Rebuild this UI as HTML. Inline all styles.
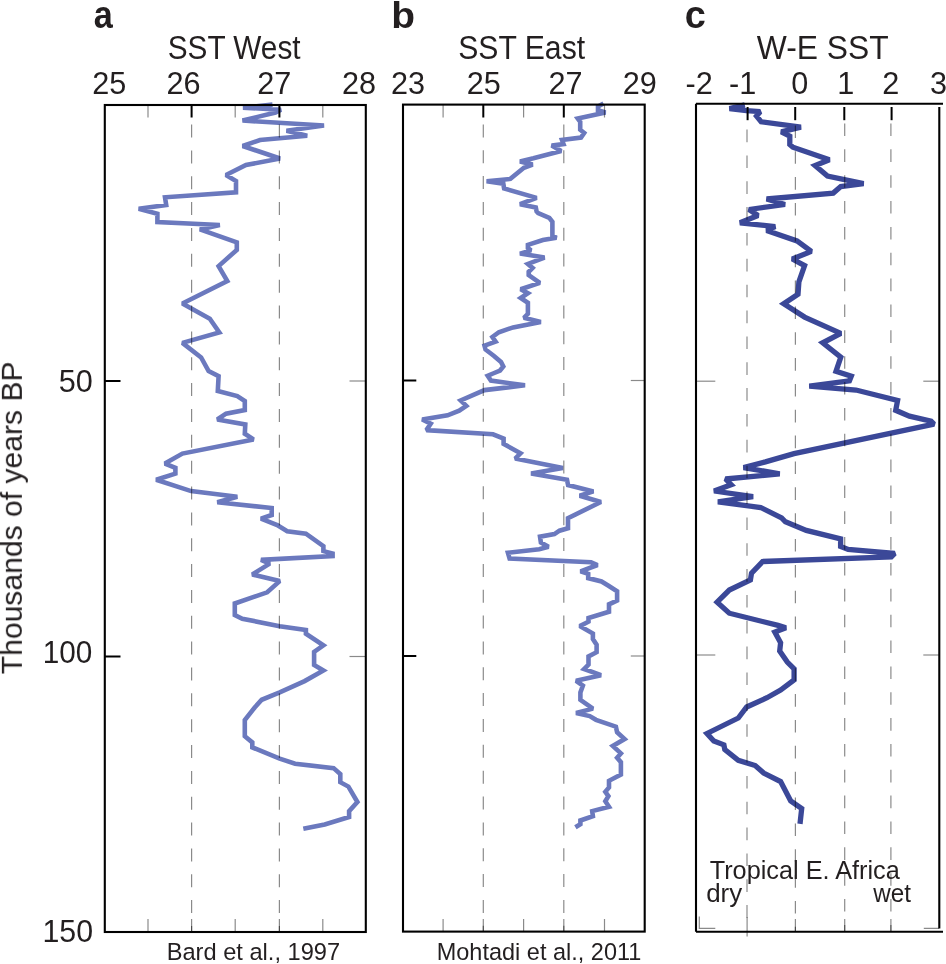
<!DOCTYPE html>
<html><head><meta charset="utf-8"><style>
html,body{margin:0;padding:0;background:#fff;}
body{width:946px;height:964px;overflow:hidden;}
svg{display:block;}

.txt{opacity:0.999;}
text{font-family:"Liberation Sans",sans-serif;fill:#231f20;}
.lab{font-size:37px;font-weight:bold;}
.t{font-size:30px;}
.s{font-size:23.3px;}
.s2{font-size:25px;}
.dash{stroke:rgba(0,0,0,0.46);stroke-width:1.2;}
.minor{stroke:rgba(0,0,0,0.46);stroke-width:1.2;}
.major{stroke:#000;stroke-width:2;}
.frame{fill:none;stroke:#000;stroke-width:2.1;}
.thin{fill:none;stroke:rgba(0,0,0,0.46);stroke-width:1.2;}
.ca{fill:none;stroke:#6b79be;stroke-width:4.6;stroke-linejoin:miter;stroke-miterlimit:2;}
.cc{fill:none;stroke:#3b4898;stroke-width:5.3;stroke-linejoin:miter;stroke-miterlimit:2;}
</style></head><body>
<svg width="946" height="964" viewBox="0 0 946 964">
<polyline points="272.5,104.6 243,107.6 281,109.8 275.5,112.6 242.5,120.5 324,125.5 286.5,130.8 307.2,135.8 260,140 242.7,146 280,158.5 246,165 226,175 236,181 236,192.3 165,197.3 166.2,205 138.7,208.7 157.4,213.7 157.4,222 219.8,225 199.9,229.4 236.8,242.4 236.8,249.9 218.6,266.1 227.3,281.1 182.4,303.5 209.8,318.7 219.3,332.4 182.4,342.9 201.1,357.4 208.6,371.1 218.6,376.1 217.8,391.1 237.3,396.1 244.8,401 244.8,410 226,413.7 217.3,419.5 245.3,424.5 244.8,433.7 253.5,439.4 182.4,453.6 164.9,463.6 175.4,467.9 175.4,473.6 156.2,479.8 191.1,491.1 237.3,496.8 217.3,502.3 271.7,508 271.7,515 261,518.7 277.2,525 287.2,531.2 305.9,533.7 323.4,546.2 323.4,551.1 332.6,553.6 332.6,556.1 261,559.9 269.7,563.6 252.3,574.4 279.7,581.1 267.2,592.3 234.8,603.5 234.8,615 242.3,618.7 279.7,626.2 305.9,630 305.9,633.7 323.4,645.4 314.1,651.9 314.1,664.9 323.4,670.4 304.6,681.1 279.7,692.3 261.7,699.8 254.7,707.5 244.8,720 244.8,736.2 252.3,742.4 252.3,747.4 279.7,758.6 295.1,763.7 333.6,768.1 340.3,774.1 340.3,782.2 348.4,786.6 357.4,802 349.1,811.1 349.1,817 324.7,824.4 303.3,828.8" class="ca"/>
<polyline points="603.5,103.5 598,106.5 598,110.3 605.5,112.5 577.8,118.6 580.2,121.8 580.2,129.7 584.2,132.9 581,137.6 562,140 563.5,144 551.7,145.6 561.2,151.1 533.4,158.3 520,161.4 532.6,164.6 523.9,167.8 510.4,178.9 486.6,181.2 503.3,183.6 504.1,188.4 536.6,197.9 520,204.2 535.8,207.4 536.6,211.4 538.2,213.2 549.3,217.9 552.4,221.9 552.4,235.4 556.4,237.7 542.9,240.1 527.9,244.9 527.9,248 531,250.4 520,253.6 544.5,257.6 527.9,263.9 532.6,267.9 528.7,271.8 528.7,275 539.8,282.9 520.7,289.3 527.9,293.2 520.7,298 527.9,302.8 527.9,313.9 523.9,317.8 540.8,321.9 513.1,327.4 498.8,332.2 492.4,337 495.6,341.7 484.5,345.7 485.5,349.5 494,356 501,362 503.3,366.5 500,370.5 493,373.5 487.7,375.8 490.9,380.6 525,385.3 484.5,390.1 460.7,400.4 466.3,405.9 459.2,410.7 447.6,415.3 422.2,419.5 430.7,423.7 426.4,430.1 493,434.3 503.6,438.5 503.6,443.8 520.5,453.3 515.2,458.6 562.8,468.1 531.1,473.4 567,479.8 568.1,485.1 593.4,491.4 579.7,495.8 600.9,502 568,518.1 568,528.2 559.5,530.7 554.4,534.1 540,536.7 540.9,542.6 548.5,546.8 539.2,549.3 507.9,552.7 509.6,558.6 591,562.3 597.5,565 580.6,571.3 588.2,573.9 588.2,578.1 601.5,581.5 608.5,585.7 617.1,591.2 617.1,600.5 609,604.3 609,611.7 588.5,618 588.5,621.7 579.8,626.1 592.9,633.5 592.9,639.1 596.6,644.7 596.6,652.2 588.5,656.5 588.5,664.6 584.1,669 601,675.2 576.1,680.8 582.9,685.6 580.4,692.4 580.4,699.9 592.9,708.6 576.1,713 589.7,716.1 596,719.8 615.9,726.7 617.1,732.3 624.6,739.1 612.8,746 620.9,753.4 617.1,757.8 620.9,762.2 620.9,774.6 609,780.8 609,787.5 605.3,791.8 608.4,796.2 605.3,801.2 609,806.8 592.2,811.1 592.9,816.1 580.4,820.5 580.4,824.2 575.4,827.3" class="ca"/>
<polyline points="744.8,104.9 729.5,108.6 746.4,110.7 760.2,111.7 756.5,116 761.2,121.8 800.9,127.1 781.3,131.8 789.8,136.1 789.8,144.5 792.9,147.2 829.4,159.8 815.1,165.5 827.5,176 863.6,183.6 840.8,186.5 833.2,193.1 766.6,199 785,204.5 749,209.5 758,215.5 740,222.8 775.2,226.6 766.6,230.4 797,240.9 811.3,251.4 792.3,259 804.6,265.6 798.9,281.8 798,294.2 783.7,303.7 804.6,317.1 840.8,333.3 822.7,342.8 840.8,357.1 836,371.3 851.3,376.1 849.4,380.9 809.3,386.2 856,390 897.6,400.5 895.7,410.3 909.4,416.2 931.1,421.1 934,424.1 794,453.6 765.4,461.9 743.6,467.6 779.7,473.9 725.5,479 731.2,484.7 714.1,491 753.1,496.7 717.9,501.8 760.7,507.5 781.6,518 785.4,521.8 806.3,530.4 840.6,538.9 840.6,546.5 848.2,549.4 894.7,553.5 891.3,557 762.6,561.5 751.5,573.3 750.4,580 729.3,590 717.1,602.1 729.3,613.2 778.1,625.4 785.9,627.7 774.8,632.1 780.6,642.7 779.7,651.1 787.3,662.1 794.1,668.9 794.1,679.9 780.6,690 767,697.7 746.7,707 738.3,718 707,733.5 713.8,741 723.9,744.9 724.8,749.5 738.3,760.4 755.2,765.5 763.7,773.1 780.6,781.6 790.7,801 801.7,808.6 800,823.9" class="cc"/>
<line x1="191.6" y1="124.6" x2="191.6" y2="137.6" class="dash"/>
<line x1="191.6" y1="150.4" x2="191.6" y2="163.4" class="dash"/>
<line x1="191.6" y1="176.3" x2="191.6" y2="189.3" class="dash"/>
<line x1="191.6" y1="202.1" x2="191.6" y2="215.1" class="dash"/>
<line x1="191.6" y1="228.0" x2="191.6" y2="241.0" class="dash"/>
<line x1="191.6" y1="253.8" x2="191.6" y2="266.8" class="dash"/>
<line x1="191.6" y1="279.7" x2="191.6" y2="292.7" class="dash"/>
<line x1="191.6" y1="305.6" x2="191.6" y2="318.6" class="dash"/>
<line x1="191.6" y1="331.4" x2="191.6" y2="344.4" class="dash"/>
<line x1="191.6" y1="357.3" x2="191.6" y2="370.3" class="dash"/>
<line x1="191.6" y1="383.1" x2="191.6" y2="396.1" class="dash"/>
<line x1="191.6" y1="409.0" x2="191.6" y2="422.0" class="dash"/>
<line x1="191.6" y1="434.8" x2="191.6" y2="447.8" class="dash"/>
<line x1="191.6" y1="460.7" x2="191.6" y2="473.7" class="dash"/>
<line x1="191.6" y1="486.5" x2="191.6" y2="499.5" class="dash"/>
<line x1="191.6" y1="512.4" x2="191.6" y2="525.4" class="dash"/>
<line x1="191.6" y1="538.2" x2="191.6" y2="551.2" class="dash"/>
<line x1="191.6" y1="564.1" x2="191.6" y2="577.1" class="dash"/>
<line x1="191.6" y1="589.9" x2="191.6" y2="602.9" class="dash"/>
<line x1="191.6" y1="615.8" x2="191.6" y2="628.8" class="dash"/>
<line x1="191.6" y1="641.6" x2="191.6" y2="654.6" class="dash"/>
<line x1="191.6" y1="667.5" x2="191.6" y2="680.5" class="dash"/>
<line x1="191.6" y1="693.3" x2="191.6" y2="706.3" class="dash"/>
<line x1="191.6" y1="719.2" x2="191.6" y2="732.2" class="dash"/>
<line x1="191.6" y1="745.0" x2="191.6" y2="758.0" class="dash"/>
<line x1="191.6" y1="770.9" x2="191.6" y2="783.9" class="dash"/>
<line x1="191.6" y1="796.7" x2="191.6" y2="809.7" class="dash"/>
<line x1="191.6" y1="822.6" x2="191.6" y2="835.6" class="dash"/>
<line x1="191.6" y1="848.4" x2="191.6" y2="861.4" class="dash"/>
<line x1="191.6" y1="874.3" x2="191.6" y2="887.3" class="dash"/>
<line x1="191.6" y1="900.1" x2="191.6" y2="913.1" class="dash"/>
<line x1="191.6" y1="926.0" x2="191.6" y2="932.0" class="dash"/>
<line x1="279.4" y1="124.6" x2="279.4" y2="137.6" class="dash"/>
<line x1="279.4" y1="150.4" x2="279.4" y2="163.4" class="dash"/>
<line x1="279.4" y1="176.3" x2="279.4" y2="189.3" class="dash"/>
<line x1="279.4" y1="202.1" x2="279.4" y2="215.1" class="dash"/>
<line x1="279.4" y1="228.0" x2="279.4" y2="241.0" class="dash"/>
<line x1="279.4" y1="253.8" x2="279.4" y2="266.8" class="dash"/>
<line x1="279.4" y1="279.7" x2="279.4" y2="292.7" class="dash"/>
<line x1="279.4" y1="305.6" x2="279.4" y2="318.6" class="dash"/>
<line x1="279.4" y1="331.4" x2="279.4" y2="344.4" class="dash"/>
<line x1="279.4" y1="357.3" x2="279.4" y2="370.3" class="dash"/>
<line x1="279.4" y1="383.1" x2="279.4" y2="396.1" class="dash"/>
<line x1="279.4" y1="409.0" x2="279.4" y2="422.0" class="dash"/>
<line x1="279.4" y1="434.8" x2="279.4" y2="447.8" class="dash"/>
<line x1="279.4" y1="460.7" x2="279.4" y2="473.7" class="dash"/>
<line x1="279.4" y1="486.5" x2="279.4" y2="499.5" class="dash"/>
<line x1="279.4" y1="512.4" x2="279.4" y2="525.4" class="dash"/>
<line x1="279.4" y1="538.2" x2="279.4" y2="551.2" class="dash"/>
<line x1="279.4" y1="564.1" x2="279.4" y2="577.1" class="dash"/>
<line x1="279.4" y1="589.9" x2="279.4" y2="602.9" class="dash"/>
<line x1="279.4" y1="615.8" x2="279.4" y2="628.8" class="dash"/>
<line x1="279.4" y1="641.6" x2="279.4" y2="654.6" class="dash"/>
<line x1="279.4" y1="667.5" x2="279.4" y2="680.5" class="dash"/>
<line x1="279.4" y1="693.3" x2="279.4" y2="706.3" class="dash"/>
<line x1="279.4" y1="719.2" x2="279.4" y2="732.2" class="dash"/>
<line x1="279.4" y1="745.0" x2="279.4" y2="758.0" class="dash"/>
<line x1="279.4" y1="770.9" x2="279.4" y2="783.9" class="dash"/>
<line x1="279.4" y1="796.7" x2="279.4" y2="809.7" class="dash"/>
<line x1="279.4" y1="822.6" x2="279.4" y2="835.6" class="dash"/>
<line x1="279.4" y1="848.4" x2="279.4" y2="861.4" class="dash"/>
<line x1="279.4" y1="874.3" x2="279.4" y2="887.3" class="dash"/>
<line x1="279.4" y1="900.1" x2="279.4" y2="913.1" class="dash"/>
<line x1="279.4" y1="926.0" x2="279.4" y2="932.0" class="dash"/>
<line x1="483.3" y1="124.4" x2="483.3" y2="137.4" class="dash"/>
<line x1="483.3" y1="150.2" x2="483.3" y2="163.2" class="dash"/>
<line x1="483.3" y1="176.1" x2="483.3" y2="189.1" class="dash"/>
<line x1="483.3" y1="201.9" x2="483.3" y2="214.9" class="dash"/>
<line x1="483.3" y1="227.8" x2="483.3" y2="240.8" class="dash"/>
<line x1="483.3" y1="253.6" x2="483.3" y2="266.6" class="dash"/>
<line x1="483.3" y1="279.5" x2="483.3" y2="292.5" class="dash"/>
<line x1="483.3" y1="305.4" x2="483.3" y2="318.4" class="dash"/>
<line x1="483.3" y1="331.2" x2="483.3" y2="344.2" class="dash"/>
<line x1="483.3" y1="357.1" x2="483.3" y2="370.1" class="dash"/>
<line x1="483.3" y1="382.9" x2="483.3" y2="395.9" class="dash"/>
<line x1="483.3" y1="408.8" x2="483.3" y2="421.8" class="dash"/>
<line x1="483.3" y1="434.6" x2="483.3" y2="447.6" class="dash"/>
<line x1="483.3" y1="460.5" x2="483.3" y2="473.5" class="dash"/>
<line x1="483.3" y1="486.3" x2="483.3" y2="499.3" class="dash"/>
<line x1="483.3" y1="512.2" x2="483.3" y2="525.2" class="dash"/>
<line x1="483.3" y1="538.0" x2="483.3" y2="551.0" class="dash"/>
<line x1="483.3" y1="563.9" x2="483.3" y2="576.9" class="dash"/>
<line x1="483.3" y1="589.7" x2="483.3" y2="602.7" class="dash"/>
<line x1="483.3" y1="615.6" x2="483.3" y2="628.6" class="dash"/>
<line x1="483.3" y1="641.4" x2="483.3" y2="654.4" class="dash"/>
<line x1="483.3" y1="667.3" x2="483.3" y2="680.3" class="dash"/>
<line x1="483.3" y1="693.1" x2="483.3" y2="706.1" class="dash"/>
<line x1="483.3" y1="719.0" x2="483.3" y2="732.0" class="dash"/>
<line x1="483.3" y1="744.8" x2="483.3" y2="757.8" class="dash"/>
<line x1="483.3" y1="770.7" x2="483.3" y2="783.7" class="dash"/>
<line x1="483.3" y1="796.5" x2="483.3" y2="809.5" class="dash"/>
<line x1="483.3" y1="822.4" x2="483.3" y2="835.4" class="dash"/>
<line x1="483.3" y1="848.2" x2="483.3" y2="861.2" class="dash"/>
<line x1="483.3" y1="874.1" x2="483.3" y2="887.1" class="dash"/>
<line x1="483.3" y1="899.9" x2="483.3" y2="912.9" class="dash"/>
<line x1="483.3" y1="925.8" x2="483.3" y2="932.0" class="dash"/>
<line x1="563.8" y1="124.4" x2="563.8" y2="137.4" class="dash"/>
<line x1="563.8" y1="150.2" x2="563.8" y2="163.2" class="dash"/>
<line x1="563.8" y1="176.1" x2="563.8" y2="189.1" class="dash"/>
<line x1="563.8" y1="201.9" x2="563.8" y2="214.9" class="dash"/>
<line x1="563.8" y1="227.8" x2="563.8" y2="240.8" class="dash"/>
<line x1="563.8" y1="253.6" x2="563.8" y2="266.6" class="dash"/>
<line x1="563.8" y1="279.5" x2="563.8" y2="292.5" class="dash"/>
<line x1="563.8" y1="305.4" x2="563.8" y2="318.4" class="dash"/>
<line x1="563.8" y1="331.2" x2="563.8" y2="344.2" class="dash"/>
<line x1="563.8" y1="357.1" x2="563.8" y2="370.1" class="dash"/>
<line x1="563.8" y1="382.9" x2="563.8" y2="395.9" class="dash"/>
<line x1="563.8" y1="408.8" x2="563.8" y2="421.8" class="dash"/>
<line x1="563.8" y1="434.6" x2="563.8" y2="447.6" class="dash"/>
<line x1="563.8" y1="460.5" x2="563.8" y2="473.5" class="dash"/>
<line x1="563.8" y1="486.3" x2="563.8" y2="499.3" class="dash"/>
<line x1="563.8" y1="512.2" x2="563.8" y2="525.2" class="dash"/>
<line x1="563.8" y1="538.0" x2="563.8" y2="551.0" class="dash"/>
<line x1="563.8" y1="563.9" x2="563.8" y2="576.9" class="dash"/>
<line x1="563.8" y1="589.7" x2="563.8" y2="602.7" class="dash"/>
<line x1="563.8" y1="615.6" x2="563.8" y2="628.6" class="dash"/>
<line x1="563.8" y1="641.4" x2="563.8" y2="654.4" class="dash"/>
<line x1="563.8" y1="667.3" x2="563.8" y2="680.3" class="dash"/>
<line x1="563.8" y1="693.1" x2="563.8" y2="706.1" class="dash"/>
<line x1="563.8" y1="719.0" x2="563.8" y2="732.0" class="dash"/>
<line x1="563.8" y1="744.8" x2="563.8" y2="757.8" class="dash"/>
<line x1="563.8" y1="770.7" x2="563.8" y2="783.7" class="dash"/>
<line x1="563.8" y1="796.5" x2="563.8" y2="809.5" class="dash"/>
<line x1="563.8" y1="822.4" x2="563.8" y2="835.4" class="dash"/>
<line x1="563.8" y1="848.2" x2="563.8" y2="861.2" class="dash"/>
<line x1="563.8" y1="874.1" x2="563.8" y2="887.1" class="dash"/>
<line x1="563.8" y1="899.9" x2="563.8" y2="912.9" class="dash"/>
<line x1="563.8" y1="925.8" x2="563.8" y2="932.0" class="dash"/>
<line x1="747.0" y1="129.6" x2="747.0" y2="142.2" class="dash"/>
<line x1="747.0" y1="155.4" x2="747.0" y2="168.0" class="dash"/>
<line x1="747.0" y1="181.3" x2="747.0" y2="193.9" class="dash"/>
<line x1="747.0" y1="207.1" x2="747.0" y2="219.7" class="dash"/>
<line x1="747.0" y1="233.0" x2="747.0" y2="245.6" class="dash"/>
<line x1="747.0" y1="258.8" x2="747.0" y2="271.4" class="dash"/>
<line x1="747.0" y1="284.7" x2="747.0" y2="297.3" class="dash"/>
<line x1="747.0" y1="310.6" x2="747.0" y2="323.2" class="dash"/>
<line x1="747.0" y1="336.4" x2="747.0" y2="349.0" class="dash"/>
<line x1="747.0" y1="362.3" x2="747.0" y2="374.9" class="dash"/>
<line x1="747.0" y1="388.1" x2="747.0" y2="400.7" class="dash"/>
<line x1="747.0" y1="414.0" x2="747.0" y2="426.6" class="dash"/>
<line x1="747.0" y1="439.8" x2="747.0" y2="452.4" class="dash"/>
<line x1="747.0" y1="465.7" x2="747.0" y2="478.3" class="dash"/>
<line x1="747.0" y1="491.5" x2="747.0" y2="504.1" class="dash"/>
<line x1="747.0" y1="517.4" x2="747.0" y2="530.0" class="dash"/>
<line x1="747.0" y1="543.2" x2="747.0" y2="555.8" class="dash"/>
<line x1="747.0" y1="569.1" x2="747.0" y2="581.7" class="dash"/>
<line x1="747.0" y1="594.9" x2="747.0" y2="607.5" class="dash"/>
<line x1="747.0" y1="620.8" x2="747.0" y2="633.4" class="dash"/>
<line x1="747.0" y1="646.6" x2="747.0" y2="659.2" class="dash"/>
<line x1="747.0" y1="672.5" x2="747.0" y2="685.1" class="dash"/>
<line x1="747.0" y1="698.3" x2="747.0" y2="710.9" class="dash"/>
<line x1="747.0" y1="724.2" x2="747.0" y2="736.8" class="dash"/>
<line x1="747.0" y1="750.0" x2="747.0" y2="762.6" class="dash"/>
<line x1="747.0" y1="775.9" x2="747.0" y2="788.5" class="dash"/>
<line x1="747.0" y1="801.7" x2="747.0" y2="814.3" class="dash"/>
<line x1="747.0" y1="827.6" x2="747.0" y2="840.2" class="dash"/>
<line x1="747.0" y1="853.4" x2="747.0" y2="866.0" class="dash"/>
<line x1="747.0" y1="879.3" x2="747.0" y2="891.9" class="dash"/>
<line x1="747.0" y1="905.1" x2="747.0" y2="917.7" class="dash"/>
<line x1="747.0" y1="931.0" x2="747.0" y2="932.0" class="dash"/>
<line x1="795.4" y1="125.4" x2="795.4" y2="138.0" class="dash"/>
<line x1="795.4" y1="151.2" x2="795.4" y2="163.8" class="dash"/>
<line x1="795.4" y1="177.1" x2="795.4" y2="189.7" class="dash"/>
<line x1="795.4" y1="202.9" x2="795.4" y2="215.5" class="dash"/>
<line x1="795.4" y1="228.8" x2="795.4" y2="241.4" class="dash"/>
<line x1="795.4" y1="254.6" x2="795.4" y2="267.2" class="dash"/>
<line x1="795.4" y1="280.5" x2="795.4" y2="293.1" class="dash"/>
<line x1="795.4" y1="306.4" x2="795.4" y2="319.0" class="dash"/>
<line x1="795.4" y1="332.2" x2="795.4" y2="344.8" class="dash"/>
<line x1="795.4" y1="358.1" x2="795.4" y2="370.7" class="dash"/>
<line x1="795.4" y1="383.9" x2="795.4" y2="396.5" class="dash"/>
<line x1="795.4" y1="409.8" x2="795.4" y2="422.4" class="dash"/>
<line x1="795.4" y1="435.6" x2="795.4" y2="448.2" class="dash"/>
<line x1="795.4" y1="461.5" x2="795.4" y2="474.1" class="dash"/>
<line x1="795.4" y1="487.3" x2="795.4" y2="499.9" class="dash"/>
<line x1="795.4" y1="513.2" x2="795.4" y2="525.8" class="dash"/>
<line x1="795.4" y1="539.0" x2="795.4" y2="551.6" class="dash"/>
<line x1="795.4" y1="564.9" x2="795.4" y2="577.5" class="dash"/>
<line x1="795.4" y1="590.7" x2="795.4" y2="603.3" class="dash"/>
<line x1="795.4" y1="616.6" x2="795.4" y2="629.2" class="dash"/>
<line x1="795.4" y1="642.4" x2="795.4" y2="655.0" class="dash"/>
<line x1="795.4" y1="668.3" x2="795.4" y2="680.9" class="dash"/>
<line x1="795.4" y1="694.1" x2="795.4" y2="706.7" class="dash"/>
<line x1="795.4" y1="720.0" x2="795.4" y2="732.6" class="dash"/>
<line x1="795.4" y1="745.8" x2="795.4" y2="758.4" class="dash"/>
<line x1="795.4" y1="771.7" x2="795.4" y2="784.3" class="dash"/>
<line x1="795.4" y1="797.5" x2="795.4" y2="810.1" class="dash"/>
<line x1="795.4" y1="823.4" x2="795.4" y2="836.0" class="dash"/>
<line x1="795.4" y1="849.2" x2="795.4" y2="861.8" class="dash"/>
<line x1="795.4" y1="875.1" x2="795.4" y2="887.7" class="dash"/>
<line x1="795.4" y1="900.9" x2="795.4" y2="913.5" class="dash"/>
<line x1="795.4" y1="926.8" x2="795.4" y2="932.0" class="dash"/>
<line x1="844.7" y1="123.5" x2="844.7" y2="136.1" class="dash"/>
<line x1="844.7" y1="149.3" x2="844.7" y2="161.9" class="dash"/>
<line x1="844.7" y1="175.2" x2="844.7" y2="187.8" class="dash"/>
<line x1="844.7" y1="201.0" x2="844.7" y2="213.6" class="dash"/>
<line x1="844.7" y1="226.9" x2="844.7" y2="239.5" class="dash"/>
<line x1="844.7" y1="252.7" x2="844.7" y2="265.3" class="dash"/>
<line x1="844.7" y1="278.6" x2="844.7" y2="291.2" class="dash"/>
<line x1="844.7" y1="304.4" x2="844.7" y2="317.1" class="dash"/>
<line x1="844.7" y1="330.3" x2="844.7" y2="342.9" class="dash"/>
<line x1="844.7" y1="356.2" x2="844.7" y2="368.8" class="dash"/>
<line x1="844.7" y1="382.0" x2="844.7" y2="394.6" class="dash"/>
<line x1="844.7" y1="407.9" x2="844.7" y2="420.5" class="dash"/>
<line x1="844.7" y1="433.7" x2="844.7" y2="446.3" class="dash"/>
<line x1="844.7" y1="459.6" x2="844.7" y2="472.2" class="dash"/>
<line x1="844.7" y1="485.4" x2="844.7" y2="498.0" class="dash"/>
<line x1="844.7" y1="511.3" x2="844.7" y2="523.9" class="dash"/>
<line x1="844.7" y1="537.1" x2="844.7" y2="549.7" class="dash"/>
<line x1="844.7" y1="563.0" x2="844.7" y2="575.6" class="dash"/>
<line x1="844.7" y1="588.8" x2="844.7" y2="601.4" class="dash"/>
<line x1="844.7" y1="614.7" x2="844.7" y2="627.3" class="dash"/>
<line x1="844.7" y1="640.5" x2="844.7" y2="653.1" class="dash"/>
<line x1="844.7" y1="666.4" x2="844.7" y2="679.0" class="dash"/>
<line x1="844.7" y1="692.2" x2="844.7" y2="704.8" class="dash"/>
<line x1="844.7" y1="718.1" x2="844.7" y2="730.7" class="dash"/>
<line x1="844.7" y1="743.9" x2="844.7" y2="756.5" class="dash"/>
<line x1="844.7" y1="769.8" x2="844.7" y2="782.4" class="dash"/>
<line x1="844.7" y1="795.6" x2="844.7" y2="808.2" class="dash"/>
<line x1="844.7" y1="821.5" x2="844.7" y2="834.1" class="dash"/>
<line x1="844.7" y1="847.3" x2="844.7" y2="859.9" class="dash"/>
<line x1="844.7" y1="873.2" x2="844.7" y2="885.8" class="dash"/>
<line x1="844.7" y1="899.0" x2="844.7" y2="911.6" class="dash"/>
<line x1="844.7" y1="924.9" x2="844.7" y2="932.0" class="dash"/>
<line x1="890.9" y1="123.5" x2="890.9" y2="136.1" class="dash"/>
<line x1="890.9" y1="149.3" x2="890.9" y2="161.9" class="dash"/>
<line x1="890.9" y1="175.2" x2="890.9" y2="187.8" class="dash"/>
<line x1="890.9" y1="201.0" x2="890.9" y2="213.6" class="dash"/>
<line x1="890.9" y1="226.9" x2="890.9" y2="239.5" class="dash"/>
<line x1="890.9" y1="252.7" x2="890.9" y2="265.3" class="dash"/>
<line x1="890.9" y1="278.6" x2="890.9" y2="291.2" class="dash"/>
<line x1="890.9" y1="304.4" x2="890.9" y2="317.1" class="dash"/>
<line x1="890.9" y1="330.3" x2="890.9" y2="342.9" class="dash"/>
<line x1="890.9" y1="356.2" x2="890.9" y2="368.8" class="dash"/>
<line x1="890.9" y1="382.0" x2="890.9" y2="394.6" class="dash"/>
<line x1="890.9" y1="407.9" x2="890.9" y2="420.5" class="dash"/>
<line x1="890.9" y1="433.7" x2="890.9" y2="446.3" class="dash"/>
<line x1="890.9" y1="459.6" x2="890.9" y2="472.2" class="dash"/>
<line x1="890.9" y1="485.4" x2="890.9" y2="498.0" class="dash"/>
<line x1="890.9" y1="511.3" x2="890.9" y2="523.9" class="dash"/>
<line x1="890.9" y1="537.1" x2="890.9" y2="549.7" class="dash"/>
<line x1="890.9" y1="563.0" x2="890.9" y2="575.6" class="dash"/>
<line x1="890.9" y1="588.8" x2="890.9" y2="601.4" class="dash"/>
<line x1="890.9" y1="614.7" x2="890.9" y2="627.3" class="dash"/>
<line x1="890.9" y1="640.5" x2="890.9" y2="653.1" class="dash"/>
<line x1="890.9" y1="666.4" x2="890.9" y2="679.0" class="dash"/>
<line x1="890.9" y1="692.2" x2="890.9" y2="704.8" class="dash"/>
<line x1="890.9" y1="718.1" x2="890.9" y2="730.7" class="dash"/>
<line x1="890.9" y1="743.9" x2="890.9" y2="756.5" class="dash"/>
<line x1="890.9" y1="769.8" x2="890.9" y2="782.4" class="dash"/>
<line x1="890.9" y1="795.6" x2="890.9" y2="808.2" class="dash"/>
<line x1="890.9" y1="821.5" x2="890.9" y2="834.1" class="dash"/>
<line x1="890.9" y1="847.3" x2="890.9" y2="859.9" class="dash"/>
<line x1="890.9" y1="873.2" x2="890.9" y2="885.8" class="dash"/>
<line x1="890.9" y1="899.0" x2="890.9" y2="911.6" class="dash"/>
<line x1="890.9" y1="924.9" x2="890.9" y2="932.0" class="dash"/>
<line x1="148.0" y1="105" x2="148.0" y2="117.5" class="minor"/>
<line x1="148.0" y1="919" x2="148.0" y2="932" class="minor"/>
<line x1="235.2" y1="105" x2="235.2" y2="117.5" class="minor"/>
<line x1="235.2" y1="919" x2="235.2" y2="932" class="minor"/>
<line x1="322.8" y1="105" x2="322.8" y2="117.5" class="minor"/>
<line x1="322.8" y1="919" x2="322.8" y2="932" class="minor"/>
<line x1="191.6" y1="105" x2="191.6" y2="117.5" class="major"/>
<line x1="191.6" y1="919" x2="191.6" y2="932" class="minor"/>
<line x1="279.4" y1="105" x2="279.4" y2="117.5" class="major"/>
<line x1="279.4" y1="919" x2="279.4" y2="932" class="minor"/>
<line x1="443.1" y1="105" x2="443.1" y2="117.5" class="minor"/>
<line x1="443.1" y1="919" x2="443.1" y2="932" class="minor"/>
<line x1="523.6" y1="105" x2="523.6" y2="117.5" class="minor"/>
<line x1="523.6" y1="919" x2="523.6" y2="932" class="minor"/>
<line x1="604.5" y1="105" x2="604.5" y2="117.5" class="minor"/>
<line x1="604.5" y1="919" x2="604.5" y2="932" class="minor"/>
<line x1="483.3" y1="105" x2="483.3" y2="117.5" class="major"/>
<line x1="483.3" y1="919" x2="483.3" y2="932" class="minor"/>
<line x1="563.8" y1="105" x2="563.8" y2="117.5" class="major"/>
<line x1="563.8" y1="919" x2="563.8" y2="932" class="minor"/>
<line x1="747.6" y1="107" x2="747.6" y2="120.2" class="major"/>
<line x1="795.2" y1="107" x2="795.2" y2="120.2" class="major"/>
<line x1="844.3" y1="107" x2="844.3" y2="120.2" class="major"/>
<line x1="891.6" y1="107" x2="891.6" y2="120.2" class="major"/>
<line x1="105" y1="381.0" x2="120.5" y2="381.0" class="major"/>
<line x1="349.5" y1="381.0" x2="365.5" y2="381.0" class="minor"/>
<line x1="403" y1="380.5" x2="416.3" y2="380.5" class="major"/>
<line x1="630.8" y1="380.5" x2="644.5" y2="380.5" class="minor"/>
<line x1="105" y1="656.5" x2="120.5" y2="656.5" class="major"/>
<line x1="349.5" y1="656.5" x2="365.5" y2="656.5" class="minor"/>
<line x1="403" y1="656.0" x2="416.3" y2="656.0" class="major"/>
<line x1="630.8" y1="656.0" x2="644.5" y2="656.0" class="minor"/>
<line x1="697" y1="381.2" x2="715.3" y2="381.2" class="minor"/>
<line x1="923.3" y1="381.2" x2="939" y2="381.2" class="minor"/>
<line x1="697" y1="655.0" x2="715.3" y2="655.0" class="minor"/>
<line x1="923.3" y1="655.0" x2="939" y2="655.0" class="minor"/>

<rect x="104.8" y="105" width="261" height="827" class="frame"/>
<rect x="403" y="104.6" width="241.7" height="827" class="frame"/>
<path d="M696,103.8 H943 M696,103.8 V931.8 M696,931.8 H943 M939.3,107 V928.6" class="frame"/>
<path d="M699.3,916.5 V928.3 H715.3 M923.8,928.3 H939" class="thin"/>
<line x1="747.1" y1="917" x2="747.1" y2="936.5" class="minor"/>
<line x1="795.4" y1="919" x2="795.4" y2="932" class="minor"/>
<line x1="844.7" y1="919" x2="844.7" y2="932" class="minor"/>
<line x1="890.9" y1="919" x2="890.9" y2="932" class="minor"/>

<g class="txt"><text id="a" class="lab" transform="matrix(0.9256,0,0,1.0273,93.69,28.00)">a</text>
<text id="b" class="lab" transform="matrix(1.0519,0,0,1.0050,391.15,28.40)">b</text>
<text id="c" class="lab" transform="matrix(1.0224,0,0,1.0273,684.72,28.00)">c</text>
<text id="SSTWest" class="t" transform="matrix(0.9924,0,0,1.0904,167.71,58.90)">SST West</text>
<text id="SSTEast" class="t" transform="matrix(1.0065,0,0,1.0904,458.18,58.90)">SST East</text>
<text id="WESST" class="t" transform="matrix(1.0607,0,0,1.0904,756.69,58.90)">W-E SST</text>
<text id="t25a" class="t" transform="matrix(1.0211,0,0,1.0180,92.25,93.90)">25</text>
<text id="t26a" class="t" transform="matrix(1.0211,0,0,1.0180,166.57,93.90)">26</text>
<text id="t27a" class="t" transform="matrix(1.0211,0,0,1.0180,257.16,93.90)">27</text>
<text id="t28a" class="t" transform="matrix(1.0211,0,0,1.0180,342.07,93.90)">28</text>
<text id="t23b" class="t" transform="matrix(1.0211,0,0,1.0180,391.06,93.90)">23</text>
<text id="t25b" class="t" transform="matrix(1.0211,0,0,1.0180,466.77,93.90)">25</text>
<text id="t27b" class="t" transform="matrix(1.0211,0,0,1.0180,548.57,93.90)">27</text>
<text id="t29b" class="t" transform="matrix(1.0211,0,0,1.0180,622.68,93.90)">29</text>
<text id="tm2" class="t" transform="matrix(1.0211,0,0,1.0180,685.54,93.90)">-2</text>
<text id="tm1" class="t" transform="matrix(1.0211,0,0,1.0180,729.03,93.90)">-1</text>
<text id="t0" class="t" transform="matrix(1.0211,0,0,1.0180,791.20,93.90)">0</text>
<text id="t1" class="t" transform="matrix(1.0211,0,0,1.0180,837.27,93.90)">1</text>
<text id="t2" class="t" transform="matrix(1.0211,0,0,1.0180,882.18,93.90)">2</text>
<text id="t3" class="t" transform="matrix(1.0211,0,0,1.0180,929.98,93.90)">3</text>
<text id="y50" class="t" transform="matrix(1.0211,0,0,1.0180,58.76,391.60)">50</text>
<text id="y100" class="t" transform="matrix(0.9914,0,0,1.0180,42.81,663.30)">100</text>
<text id="y150" class="t" transform="matrix(1.0112,0,0,1.0180,42.43,941.60)">150</text>
<text id="bard" class="s" transform="matrix(1.0149,0,0,1.0010,166.69,959.70)">Bard et al., 1997</text>
<text id="moh" class="s" transform="matrix(1.0091,0,0,1.0010,436.70,959.70)">Mohtadi et al., 2011</text>
<text id="trop" class="s2" transform="matrix(1.0111,0,0,1.0200,709.70,878.60)">Tropical E. Africa</text>
<text id="dry" class="s2" transform="matrix(1.0367,0,0,1.0010,706.13,901.50)">dry</text>
<text id="wet" class="s2" transform="matrix(0.9687,0,0,1.0010,873.21,901.50)">wet</text>
<text id="ytitle" class="t" transform="matrix(0,-1.0039,1.0010,0,21.90,674.31)">Thousands of years BP</text></g>
</svg>
</body></html>
